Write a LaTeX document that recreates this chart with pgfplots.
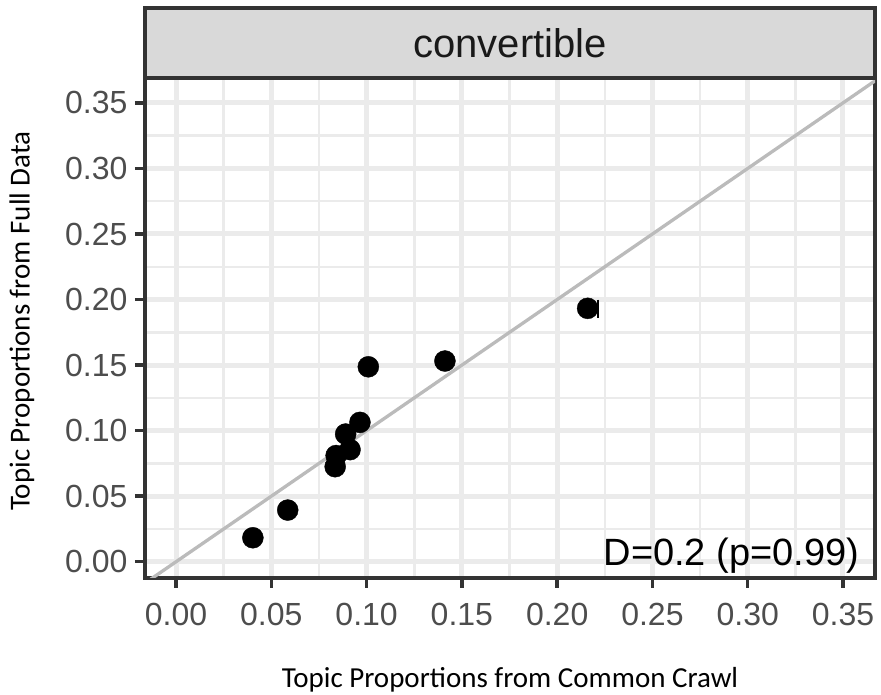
\documentclass[border=0pt]{standalone}
\usepackage{fontspec}
\setmainfont{Liberation Sans}
\newfontfamily\calibri{Carlito}
\usepackage{pgfplots}
\pgfplotsset{compat=1.18}
\definecolor{grey20}{HTML}{333333}
\definecolor{grey30}{HTML}{4D4D4D}
\definecolor{grey92}{HTML}{EBEBEB}
\definecolor{stripgray}{HTML}{D9D9D9}
\definecolor{diaggray}{HTML}{BBBBBB}
\begin{document}
\begin{tikzpicture}
\path[use as bounding box] (-145pt,-117pt) rectangle (736pt,578pt);
\begin{axis}[
  scale only axis, width=730pt, height=500pt,
  xmin=-0.0163, xmax=0.3668, ymin=-0.0124, ymax=0.369,
  xtick={0,0.05,0.1,0.15,0.2,0.25,0.3,0.35},
  ytick={0,0.05,0.1,0.15,0.2,0.25,0.3,0.35},
  xticklabels={0.00,0.05,0.10,0.15,0.20,0.25,0.30,0.35},
  yticklabels={0.00,0.05,0.10,0.15,0.20,0.25,0.30,0.35},
  xtick pos=bottom, ytick pos=left,
  minor tick num=1,
  grid=both,
  major grid style={line width=5pt, color=grey92},
  minor grid style={line width=2.5pt, color=grey92},
  tick align=outside,
  major tick length=10pt, minor tick length=0pt,
  tick style={line width=3.5pt, color=grey20},
  axis line style={line width=3.5pt, color=grey20},
  ticklabel style={font=\fontsize{32}{37}\selectfont, text=grey30},
  xticklabel style={anchor=base, yshift=-38pt},
  yticklabel style={anchor=east, xshift=-4pt},
  /pgf/number format/assume math mode=true,
  xlabel={Topic Proportions from Common Crawl},
  ylabel={Topic Proportions from Full Data},
  label style={font=\calibri\fontsize{29}{34}\selectfont, text=black},
  xlabel style={at={(axis description cs:0.5,-0.204)}, anchor=center},
  ylabel style={at={(axis description cs:-0.1685,0.514)}, anchor=center},
  clip=true,
]
\addplot[only marks, mark=*, mark size=10.5pt, color=black] coordinates {
  (0.0403,0.0183) (0.0586,0.0394) (0.0835,0.0725) (0.0840,0.0810)
  (0.0913,0.0855) (0.0890,0.0974) (0.0965,0.1063) (0.1009,0.1487)
  (0.1411,0.1531) (0.2160,0.1933)
};
\addplot[only marks, mark=|, mark size=9pt, mark options={line width=2pt}, color=black] coordinates {(0.2216,0.1930)};
\addplot[line width=3.3pt, color=diaggray] coordinates {(-0.05,-0.05) (0.45,0.45)};
\node[anchor=base east, font=\fontsize{38}{43}\selectfont, text=black] at (axis cs:0.3604,-0.0025) {D=0.2 (p=0.99)};
\end{axis}
\draw[line width=3.5pt, draw=grey20, fill=stripgray] (0pt,500pt) rectangle (730pt,570pt);
\node[font=\fontsize{40}{45}\selectfont, text=black!90] at (365pt,535pt) {convertible};
\end{tikzpicture}
\end{document}
